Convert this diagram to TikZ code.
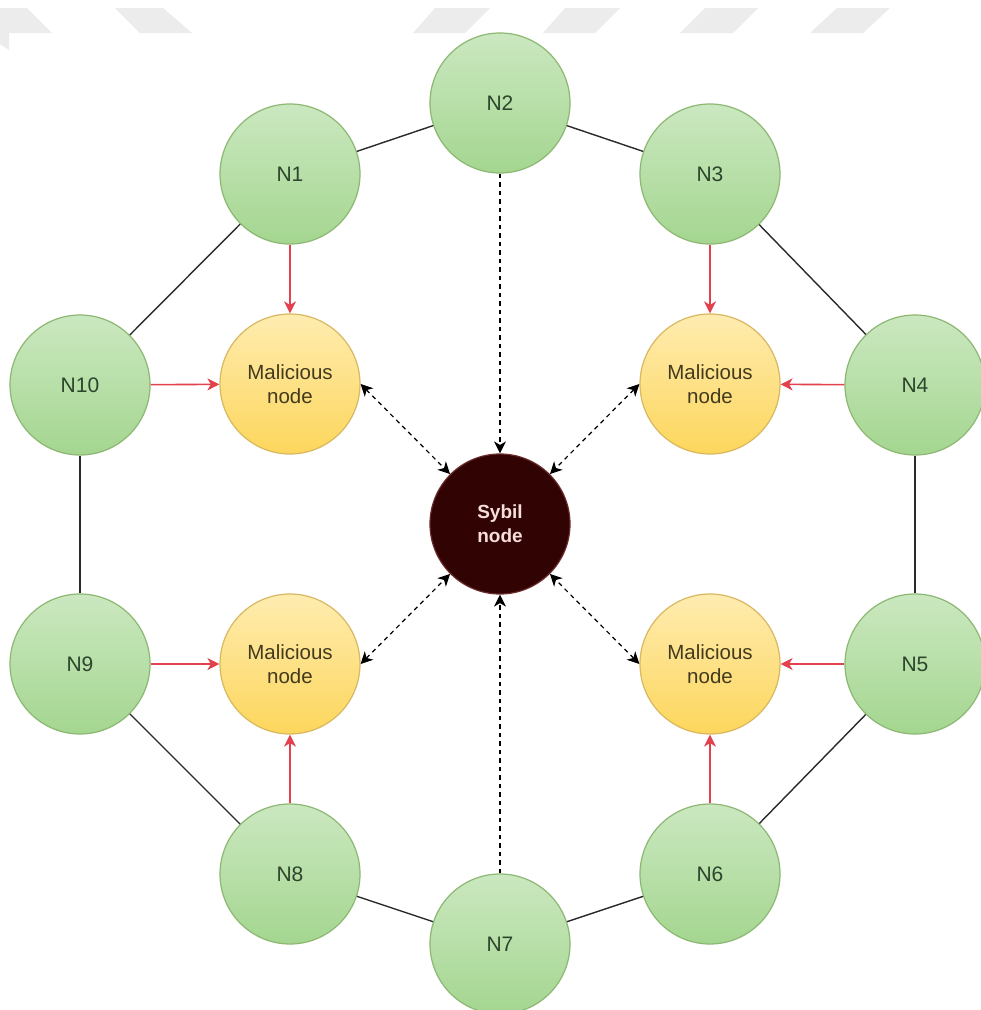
\documentclass[tikz,border=0pt]{standalone}
\usepackage{fontspec}
\setmainfont{Liberation Sans}
\usetikzlibrary{arrows.meta}

\definecolor{peerTop}{HTML}{CBE8C0}
\definecolor{peerBot}{HTML}{A4D690}
\definecolor{peerLine}{HTML}{8DB873}
\definecolor{peerText}{HTML}{2C452C}
\definecolor{malTop}{HTML}{FEECB0}
\definecolor{malBot}{HTML}{FDD65C}
\definecolor{malLine}{HTML}{D8B860}
\definecolor{malText}{HTML}{433A1E}
\definecolor{sybFill}{HTML}{310303}
\definecolor{sybLine}{HTML}{6B2A2A}
\definecolor{sybText}{HTML}{F6DEDA}
\definecolor{attackRed}{HTML}{E2414D}
\definecolor{ringLine}{HTML}{2A2A2A}
\definecolor{bandGrey}{HTML}{ECECEC}

\tikzset{
  >={Stealth[length=12pt,width=12pt,inset=3.5pt]},
  peer/.style={circle, minimum size=140pt, inner sep=0pt,
    top color=peerTop, bottom color=peerBot, draw=peerLine, line width=1.2pt,
    text=peerText, font=\fontsize{21}{24.5}\selectfont},
  malicious/.style={circle, minimum size=140pt, inner sep=0pt, align=center,
    top color=malTop, bottom color=malBot, draw=malLine, line width=1.2pt,
    text=malText, font=\fontsize{20.5}{24.5}\selectfont},
  sybil/.style={circle, minimum size=140pt, inner sep=0pt, align=center,
    fill=sybFill, draw=sybLine, line width=1.2pt,
    text=sybText, font=\fontsize{19}{24}\selectfont\bfseries},
  ring/.style={draw=ringLine, line width=1.4pt},
  attack/.style={draw=attackRed, line width=1.6pt, ->},
  sybillink/.style={draw=black, line width=1.2pt, dash pattern=on 4.5pt off 4pt},
}

\begin{document}
\begin{tikzpicture}[x=1pt,y=-1pt]
\useasboundingbox (0,0) rectangle (981,1010);
\fill[white] (0,0) rectangle (981,1010);

% light grey band of slanted bars along the top edge
\fill[bandGrey] (0,8) -- (27,8) -- (52,33) -- (9,33) -- (9,50) -- (0,44) -- cycle;
\fill[bandGrey] (115,8) -- (163,8) -- (192,33) -- (140,33) -- cycle;
\fill[bandGrey] (435,8) -- (490,8) -- (465,33) -- (413,33) -- cycle;
\fill[bandGrey] (565,8) -- (620,8) -- (595,33) -- (543,33) -- cycle;
\fill[bandGrey] (705,8) -- (758,8) -- (733,33) -- (680,33) -- cycle;
\fill[bandGrey] (837,8) -- (890,8) -- (863,33) -- (810,33) -- cycle;

% ordinary peers on the ring
\node[peer] (n1)  at (290,174) {N1};
\node[peer] (n2)  at (500,103) {N2};
\node[peer] (n3)  at (710,174) {N3};
\node[peer] (n4)  at (915,385) {N4};
\node[peer] (n5)  at (915,664) {N5};
\node[peer] (n6)  at (710,874) {N6};
\node[peer] (n7)  at (500,944) {N7};
\node[peer] (n8)  at (290,874) {N8};
\node[peer] (n9)  at (80,664)  {N9};
\node[peer] (n10) at (80,385)  {N10};

% malicious nodes and the sybil node
\node[malicious] (m1) at (290,384) {Malicious\\node};
\node[malicious] (m2) at (710,384) {Malicious\\node};
\node[malicious] (m3) at (290,664) {Malicious\\node};
\node[malicious] (m4) at (710,664) {Malicious\\node};
\node[sybil] (s) at (500,524) {Sybil\\node};

% ring links between neighbouring peers
\draw[ring] (n1) -- (n2);
\draw[ring] (n2) -- (n3);
\draw[ring] (n3) -- (n4);
\draw[ring] (n4) -- (n5);
\draw[ring] (n5) -- (n6);
\draw[ring] (n6) -- (n7);
\draw[ring] (n7) -- (n8);
\draw[ring] (n8) -- (n9);
\draw[ring] (n9) -- (n10);
\draw[ring] (n10) -- (n1);

% peers feeding the malicious nodes
\draw[attack] (n1) -- (m1);
\draw[attack] (n10) -- (m1);
\draw[attack] (n3) -- (m2);
\draw[attack] (n4) -- (m2);
\draw[attack] (n9) -- (m3);
\draw[attack] (n8) -- (m3);
\draw[attack] (n5) -- (m4);
\draw[attack] (n6) -- (m4);

% sybil coordination links
\draw[sybillink, <->] (m1.east) -- (s.north west);
\draw[sybillink, <->] (m2.west) -- (s.north east);
\draw[sybillink, <->] (m3.east) -- (s.south west);
\draw[sybillink, <->] (m4.west) -- (s.south east);
\draw[sybillink, ->] (n2) -- (s);
\draw[sybillink, ->] (n7) -- (s);
\end{tikzpicture}
\end{document}
